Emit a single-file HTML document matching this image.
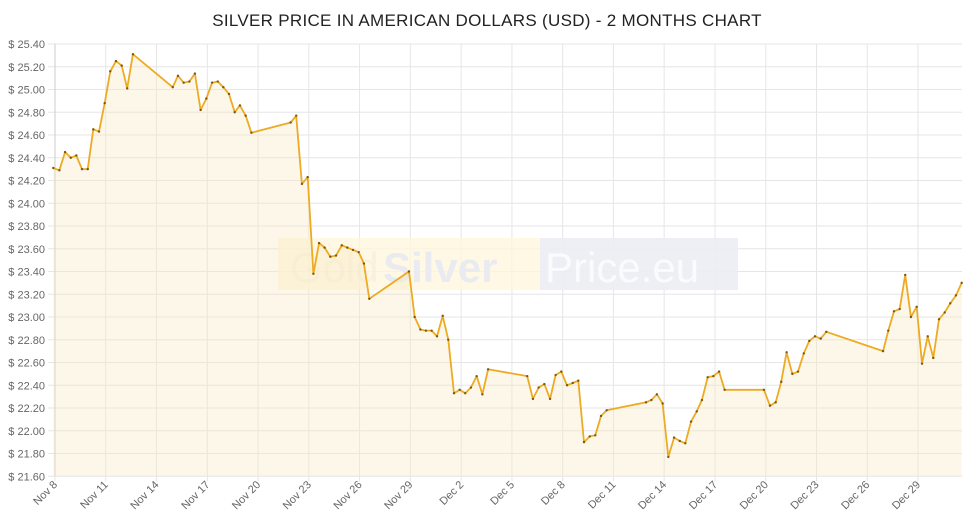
<!DOCTYPE html>
<html><head><meta charset="utf-8"><style>
html,body{margin:0;padding:0;background:#fff;}
svg{display:block;font-family:"Liberation Sans",sans-serif;}
</style></head><body>
<svg id="chart" width="975" height="526">
<text x="487" y="26" text-anchor="middle" font-size="17" fill="#222" letter-spacing="0.3">SILVER PRICE IN AMERICAN DOLLARS (USD) - 2 MONTHS CHART</text>
<g id="grid"></g>
<g>
<rect x="278" y="238" width="262" height="52" fill="#fdf5dc" opacity="0.75"/>
<rect x="540" y="238" width="198" height="52" fill="#ebedf4" opacity="0.9"/>
<text x="290" y="282" font-size="42" fill="#f6eed8" opacity="0.6">Gold</text>
<text x="383" y="282" font-size="42" font-weight="bold" fill="#eaebf1">Silver</text>
<text x="545" y="282" font-size="42" fill="#fbfbfd">Price.eu</text>
</g>
<g id="series"></g>
<g id="labels"></g>
</svg>
<script>
const days=[0,0.36,0.70,1.04,1.37,1.71,2.05,2.38,2.72,3.06,3.39,3.73,4.07,4.40,4.74,7.11,7.42,7.76,8.10,8.43,8.77,9.11,9.45,9.79,10.12,10.46,10.80,11.11,11.45,11.79,14.13,14.46,14.80,15.14,15.48,15.82,16.15,16.49,16.83,17.17,17.50,17.84,18.18,18.49,18.81,21.17,21.51,21.85,22.18,22.52,22.84,23.18,23.51,23.85,24.19,24.52,24.86,25.20,25.54,25.88,28.21,28.55,28.89,29.23,29.57,29.90,30.24,30.58,30.92,31.25,31.59,31.93,32.26,32.60,32.94,35.28,35.60,35.93,36.27,36.61,36.95,37.29,37.62,37.96,38.30,38.61,38.95,39.29,39.63,39.96,42.30,42.66,43.00,43.33,43.65,43.99,44.33,44.67,45.00,45.34,45.68,46.01,49.39,49.70,50.04,50.38,50.71,51.05,51.39,51.71,52.05,52.38,52.72,53.06,53.39,53.73,54.07];
const prices=[24.31,24.29,24.45,24.40,24.42,24.30,24.30,24.65,24.63,24.88,25.16,25.25,25.21,25.01,25.31,25.02,25.12,25.06,25.07,25.14,24.82,24.92,25.06,25.07,25.02,24.96,24.80,24.86,24.77,24.62,24.71,24.77,24.17,24.23,23.38,23.65,23.61,23.53,23.54,23.63,23.61,23.59,23.57,23.47,23.16,23.40,23.00,22.89,22.88,22.88,22.83,23.01,22.80,22.33,22.36,22.33,22.38,22.48,22.32,22.54,22.48,22.28,22.38,22.41,22.28,22.49,22.52,22.40,22.42,22.44,21.90,21.95,21.96,22.13,22.18,22.25,22.27,22.32,22.24,21.77,21.94,21.91,21.89,22.08,22.17,22.27,22.47,22.48,22.52,22.36,22.36,22.22,22.25,22.43,22.69,22.50,22.52,22.68,22.79,22.83,22.81,22.87,22.70,22.88,23.05,23.07,23.37,23.00,23.09,22.59,22.83,22.64,22.98,23.04,23.12,23.19,23.30];
const yTicks=[25.40,25.20,25.00,24.80,24.60,24.40,24.20,24.00,23.80,23.60,23.40,23.20,23.00,22.80,22.60,22.40,22.20,22.00,21.80,21.60];
const xTickDays=[0.1,3.12,6.14,9.17,12.19,15.21,18.23,21.25,24.28,27.30,30.32,33.34,36.36,39.39,42.41,45.43,48.45,51.47];
const xTickLabels=["Nov 8","Nov 11","Nov 14","Nov 17","Nov 20","Nov 23","Nov 26","Nov 29","Dec 2","Dec 5","Dec 8","Dec 11","Dec 14","Dec 17","Dec 20","Dec 23","Dec 26","Dec 29"];
const NS="http://www.w3.org/2000/svg";
const X0=53.3,KX=16.8,Y0=44,YMAX=25.4,KY=22.75/0.2,LEFT=48,RIGHT=962,BOTTOM=476.3;
function xs(d){return X0+d*KX;}
function ys(v){return Y0+(YMAX-v)*KY;}
function mk(t,a,p){const e=document.createElementNS(NS,t);for(const k in a)e.setAttribute(k,a[k]);p.appendChild(e);return e;}
const grid=document.getElementById('grid'),ser=document.getElementById('series'),lab=document.getElementById('labels');
yTicks.forEach(v=>{
 const l=mk('line',{x1:LEFT,x2:RIGHT,y1:ys(v),y2:ys(v),stroke:'#e6e6e6','stroke-width':1},grid);
 
 
 const t=mk('text',{x:45,y:ys(v)+4,'text-anchor':'end','font-size':11,fill:'#666'},lab);
 t.textContent='$ '+v.toFixed(2);
 
 
});
xTickDays.forEach((d,i)=>{
 const x=xs(d);
 const l=mk('line',{x1:x,x2:x,y1:Y0,y2:BOTTOM+5,stroke:'#e6e6e6','stroke-width':1},grid);
 
 
 const t=mk('text',{x:x+3,y:BOTTOM+9,'text-anchor':'end','font-size':11,fill:'#666',transform:`rotate(-45 ${x+3} ${BOTTOM+9})`},lab);
 t.textContent=xTickLabels[i];
 
 
});
const ax=mk('line',{x1:55,x2:55,y1:Y0,y2:BOTTOM,stroke:'#ccc','stroke-width':1},grid);


let pts=days.map((d,i)=>xs(d).toFixed(1)+','+ys(prices[i]).toFixed(1));
const area=mk('polygon',{points:xs(days[0])+','+BOTTOM+' '+pts.join(' ')+' '+xs(days[days.length-1])+','+BOTTOM,fill:'#f7e9c0','fill-opacity':0.35},ser);


const line=mk('polyline',{points:pts.join(' '),fill:'none',stroke:'#eeaa22','stroke-width':1.8,'stroke-linejoin':'round'},ser);


days.forEach((d,i)=>{
 const c=mk('circle',{cx:xs(d),cy:ys(prices[i]),r:1.2,fill:'#7a5a10'},ser);
 
 
});
</script>
</body></html>
